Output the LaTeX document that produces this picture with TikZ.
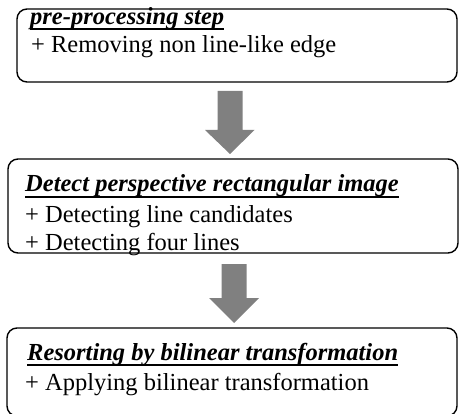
\documentclass[tikz,border=0pt]{standalone}
\usepackage{fontspec}
\setmainfont{Liberation Serif}
\usetikzlibrary{calc}
\definecolor{arrowgray}{HTML}{808080}
\begin{document}
\begin{tikzpicture}[x=1pt,y=-1pt,
  boxstyle/.style={draw=black,line width=1.4pt,rounded corners=10pt},
  titletext/.style={anchor=base west,inner sep=0pt,font=\fontsize{24.5}{29}\selectfont\bfseries\itshape},
  bodytext/.style={anchor=base west,inner sep=0pt,font=\fontsize{24.5}{29}\selectfont},
  uline/.style={line width=1.6pt},
  blockarrow/.style={fill=arrowgray,draw=none}]
\useasboundingbox (0,0) rectangle (460,414);
% boxes
\draw[boxstyle] (17,9) rectangle (457,82);
\coordinate (b1s) at (230,82);
\draw[boxstyle] (8,159) rectangle (458,253);
\coordinate (b2n) at (230,159);
\coordinate (b2s) at (234,253);
\draw[boxstyle] (7,328) rectangle (457,416);
\coordinate (b3n) at (234,328);
% box 1 text
\node[titletext] (t1) at (30,25) {pre-processing step};
\draw[uline] ($(t1.base west)+(0,4)$) -- ($(t1.base east)+(0,4)$);
\node[bodytext] (l11) at (31,53) {+ Removing non line-like edge};
% box 2 text
\node[titletext] (t2) at (25,192) {Detect perspective rectangular image};
\draw[uline] ($(t2.base west)+(0,5)$) -- ($(t2.base east)+(0,5)$);
\node[bodytext] (l21) at (25,222) {+ Detecting line candidates};
\node[bodytext] (l22) at (25,250) {+ Detecting four lines};
% box 3 text
\node[titletext] (t3) at (27,360) {Resorting by bilinear transformation};
\draw[uline] ($(t3.base west)+(0,5)$) -- ($(t3.base east)+(0,5)$);
\node[bodytext] (l31) at (25,390) {+ Applying bilinear transformation};
% arrows
\fill[blockarrow] ($(b1s)+(-12.5,9)$) -- ($(b1s)+(12.5,9)$)
  -- ($(b1s)+(12.5,48)$) -- ($(b1s)+(24.5,48)$)
  -- ($(b2n)+(0,-5)$) -- ($(b1s)+(-25,48)$)
  -- ($(b1s)+(-12.5,48)$) -- cycle;
\fill[blockarrow] ($(b2s)+(-12.5,11)$) -- ($(b2s)+(12.5,11)$)
  -- ($(b2s)+(12.5,45)$) -- ($(b2s)+(25,45)$)
  -- ($(b3n)+(0,-5)$) -- ($(b2s)+(-25,45)$)
  -- ($(b2s)+(-12.5,45)$) -- cycle;
\end{tikzpicture}
\end{document}
